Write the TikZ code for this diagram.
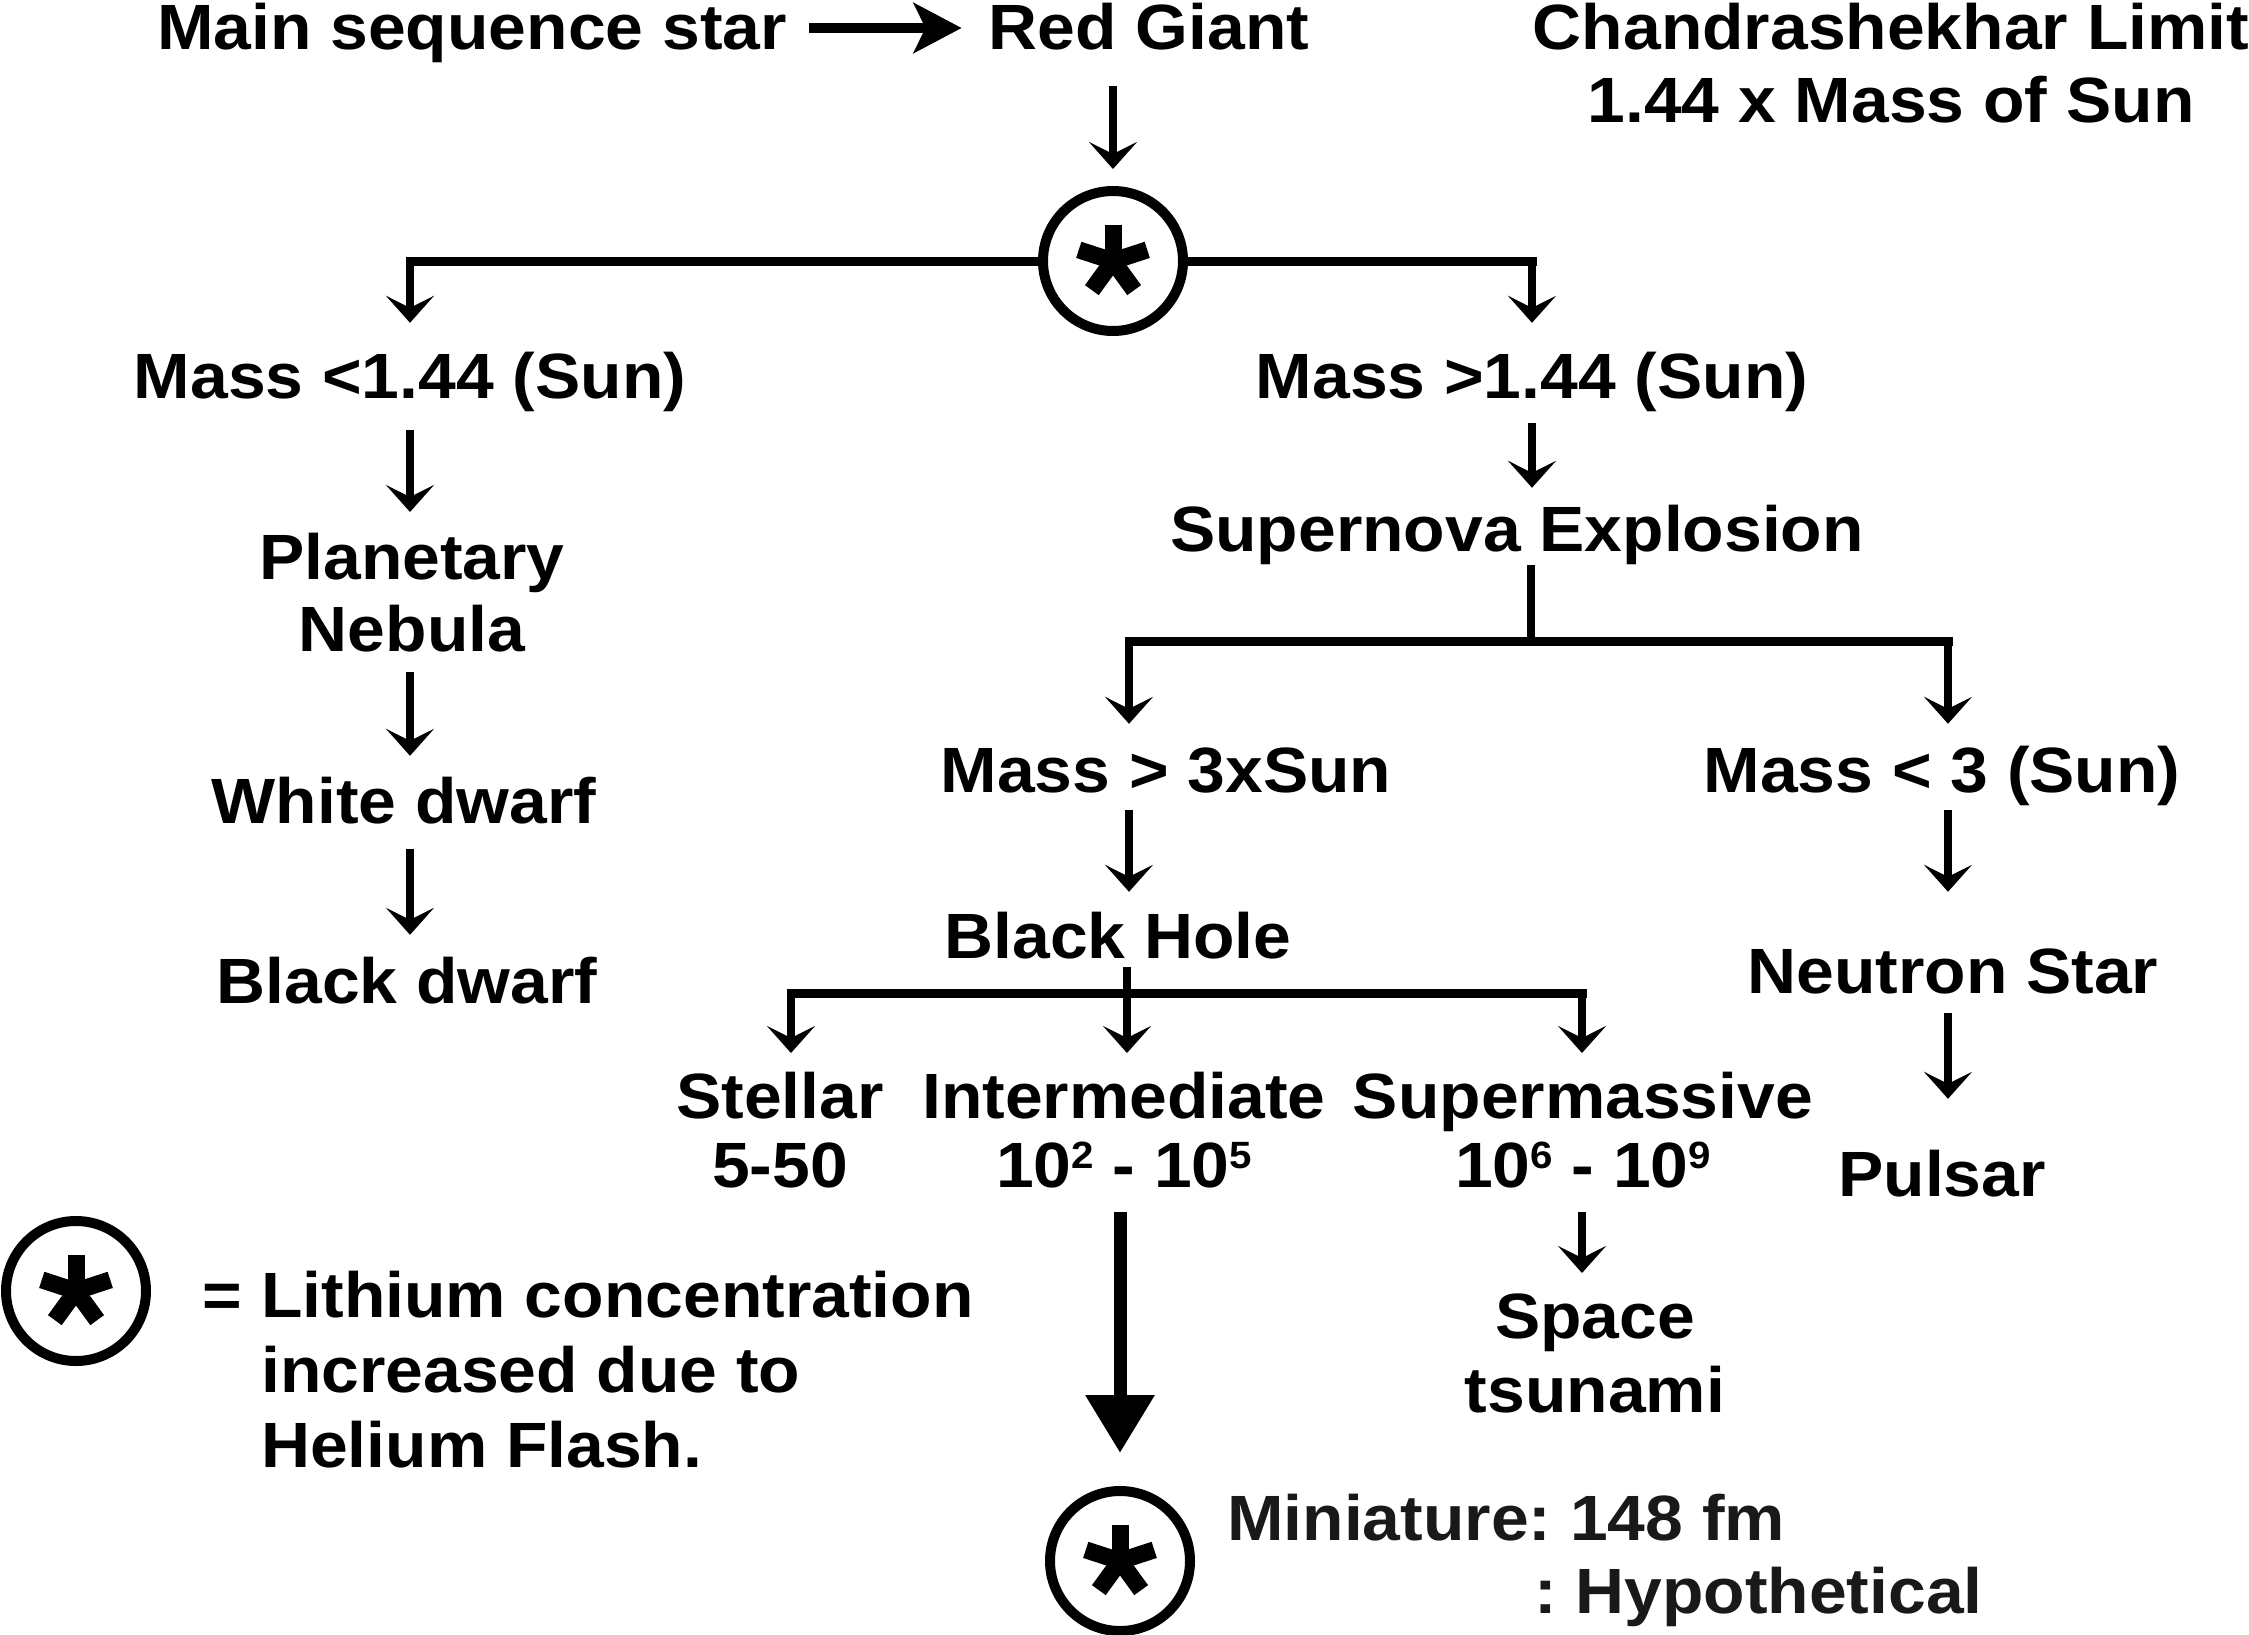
\documentclass[tikz,border=0pt]{standalone}
\usepackage{fontspec}
\setmainfont{Liberation Sans}[FakeStretch=1.06]
\usetikzlibrary{arrows.meta}
\frenchspacing
\newcommand\sups[1]{\raisebox{19pt}{\fontsize{38}{38}\selectfont #1}}
\tikzset{
  txt/.style={font=\fontsize{64}{74}\selectfont\bfseries, inner sep=0pt, text height=47pt, text depth=14pt, anchor=base},
  mtxt/.style={font=\fontsize{64}{#1}\selectfont\bfseries, inner sep=0pt, align=center, anchor=north},
  ltxt/.style={font=\fontsize{64}{#1}\selectfont\bfseries, inner sep=0pt, align=left, anchor=north west},
  circ/.style={circle, draw, line width=10pt, minimum size=140pt, inner sep=0pt},
  astarm/.style={line width=17pt},
  arr/.style={line width=7.5pt, -{Stealth[length=27pt, width=48pt, inset=12pt]}},
  bigarr/.style={line width=10pt, -{Stealth[length=48pt, width=50pt, inset=12pt]}},
  thickarr/.style={line width=13pt, -{Triangle[length=58pt, width=66pt]}},
  hl/.style={line width=9pt, line cap=rect},
  vl/.style={line width=7.5pt}
}
\begin{document}
\begin{tikzpicture}[x=1pt, y=-1pt]
\useasboundingbox (0,0) rectangle (2249,1635);

% text nodes
\node[txt] (ms) at (472,50) {Main sequence star};
\node[txt] (rg) at (1149,50) {Red Giant};
\node[mtxt=73] (ch) at (1891,3) {Chandrashekhar Limit\\1.44 x Mass of Sun};
\node[txt] (m1) at (410,398) {Mass <1.44 (Sun)};
\node[txt] (m2) at (1532,398) {Mass >1.44 (Sun)};
\node[mtxt=72] (pn) at (412,533) {Planetary\\Nebula};
\node[txt] (wd) at (404,823) {White dwarf};
\node[txt] (bd) at (407,1003) {Black dwarf};
\node[txt] (sn) at (1517,551) {Supernova Explosion};
\node[txt] (m3) at (1166,792) {Mass > 3xSun};
\node[txt] (m4) at (1942,792) {Mass < 3 (Sun)};
\node[txt] (bh) at (1118,958) {Black Hole};
\node[txt] (ns) at (1953,993) {Neutron Star};
\node[txt] (pu) at (1942,1196) {Pulsar};
\node[mtxt=69] (st) at (780,1072) {Stellar\\5-50};
\node[mtxt=69] (im) at (1124,1072) {Intermediate\\10\sups{2} - 10\sups{5}};
\node[mtxt=69] (sm) at (1583,1072) {Supermassive\\10\sups{6} - 10\sups{9}};
\node[mtxt=74] (sp) at (1595,1294) {Space\\tsunami};
\node[ltxt=75] (lg) at (261,1271) {\llap{= }Lithium concentration\\increased due to\\Helium Flash.};
\node[ltxt=73, text=black!90] (mi) at (1227,1494) {Miniature: 148 fm\\\hspace*{307pt}: Hypothetical};

% circled asterisks
\node[circ] (c1) at (1113,261) {};
\node[circ] (c2) at (1120,1561) {};
\node[circ] (c3) at (76,1291) {};
\foreach \c in {c1,c2,c3}
  \foreach \a in {90,162,18,234,306}
    \draw[astarm] (\c.center) -- ++(\a:36pt);

% connectors
\draw[bigarr, shorten <=22pt, shorten >=27pt] ([yshift=5.5pt]ms.east) -- ([yshift=5.5pt]rg.west);
\draw[arr, shorten <=22pt, shorten >=17pt] (rg.south -| c1) -- (c1.north);
\draw[hl] (c1.west) -- (c1.west -| m1);
\draw[hl] (c1.east) -- (c1.east -| m2);
\draw[arr, shorten >=28pt] (c1.west -| m1) -- (m1.north);
\draw[arr, shorten >=28pt] (c1.east -| m2) -- (m2.north);
\draw[arr, shorten <=18pt, shorten >=21pt] (m1.south) -- (m1.south |- pn.north);
\draw[arr, shorten <=20pt, shorten >=20pt] (pn.south -| m1) -- (m1 |- wd.north);
\draw[arr, shorten <=12pt, shorten >=21pt] (wd.south -| m1) -- (m1 |- bd.north);

\draw[arr, shorten <=11pt, shorten >=16pt] (m2.south) -- (m2.south |- sn.north);
\coordinate (j2) at (1531,641);
\coordinate (j3) at (1129,641);
\coordinate (j4) at (1948,641);
\draw[vl] (sn.south -| j2) -- (j2);
\draw[hl] (j3) -- (j4);
\draw[arr, shorten >=21pt] (j3) -- (j3 |- m3.north);
\draw[arr, shorten >=21pt] (j4) -- (j4 |- m4.north);
\draw[arr, shorten <=4pt, shorten >=19pt] (m3.south -| j3) -- (j3 |- bh.north);
\draw[arr, shorten <=4pt, shorten >=54pt] (m4.south -| j4) -- (j4 |- ns.north);
\draw[arr, shorten <=6pt, shorten >=50pt] (ns.south -| j4) -- (j4 |- pu.north);

\coordinate (k1) at (791,993);
\coordinate (k2) at (1127,993);
\coordinate (k3) at (1582,993);
\draw[hl] (k1) -- (k3);
\draw[arr, shorten <=-5pt, shorten >=19pt] (bh.south -| k2) -- (k2 |- im.north);
\draw[arr, shorten >=19pt] (k1) -- (k1 |- st.north);
\draw[arr, shorten >=19pt] (k3) -- (k3 |- sm.north);
\draw[arr, shorten <=24pt, shorten >=21pt] (sm.south -| k3) -- (k3 |- sp.north);
\draw[thickarr, shorten <=24pt, shorten >=33pt] (im.south -| c2) -- (c2.north);
\end{tikzpicture}
\end{document}
